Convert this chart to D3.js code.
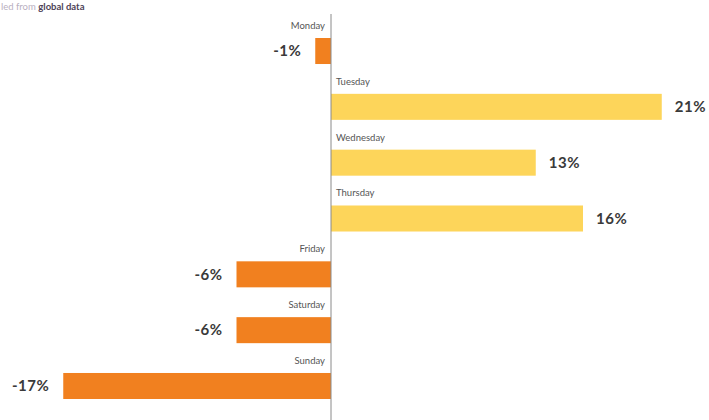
<!DOCTYPE html>
<html>
<head>
<meta charset="utf-8">
<script src="https://cdn.jsdelivr.net/npm/d3@7"></script>
<style>
  body { margin: 0; background: #fff; }
  svg { display: block; }
</style>
</head>
<body>
<svg id="chart"></svg>
<script>
var days = ["Monday", "Tuesday", "Wednesday", "Thursday", "Friday", "Saturday", "Sunday"];
var values = [-1, 21, 13, 16, -6, -6, -17];
var valueLabels = ["-1%", "21%", "13%", "16%", "-6%", "-6%", "-17%"];

var totalWidth = 709;
var totalHeight = 420;

var svg = d3.select("#chart")
    .attr("width", totalWidth)
    .attr("height", totalHeight);

var x = d3.scaleLinear().domain([-21, 24]).range([0.25, 709]);
var y = d3.scaleBand().domain(days).range([38, 399]).paddingInner(0.534).paddingOuter(0);

// source line (the visible part of it, the rest is off the page in the original)
var src = svg.append("text")
    .attr("x", 1)
    .attr("y", 10)
    .attr("font-family", "Lato, sans-serif")
    .attr("font-size", 9.5);
src.append("tspan").attr("fill", "#b9b0bf").text("led from ");
src.append("tspan").attr("fill", "#4d4257").attr("font-weight", "bold").text("global data");

var g = svg.append("g");

g.selectAll(".bar")
    .data(days)
    .enter()
    .append("rect")
    .attr("class", "bar")
    .attr("x", function (d, i) { return Math.min(x(0), x(values[i])) })
    .attr("y", function (d) { return y(d) })
    .attr("width", function (d, i) { return Math.abs(x(values[i]) - x(0)) })
    .attr("height", y.bandwidth())
    .attr("fill", function (d, i) { return values[i] < 0 ? "#f1801f" : "#fdd55a" });

// zero line
svg.append("line")
    .attr("x1", x(0)).attr("x2", x(0))
    .attr("y1", 14).attr("y2", totalHeight)
    .attr("stroke", "#8a8a8a")
    .attr("stroke-width", 1);

// day names
g.selectAll(".day")
    .data(days)
    .enter()
    .append("text")
    .attr("class", "day")
    .attr("x", function (d, i) { return values[i] < 0 ? x(0) - 6 : x(0) + 5 })
    .attr("y", function (d) { return y(d) - 9 })
    .attr("text-anchor", function (d, i) { return values[i] < 0 ? "end" : "start" })
    .attr("font-family", "Lato, sans-serif")
    .attr("font-size", 9.5)
    .attr("fill", "#555")
    .text(function (d) { return d });

// value labels
g.selectAll(".val")
    .data(days)
    .enter()
    .append("text")
    .attr("class", "val")
    .attr("x", function (d, i) { return values[i] < 0 ? x(values[i]) - 14 : x(values[i]) + 13 })
    .attr("y", function (d) { return y(d) + y.bandwidth() / 2 })
    .attr("dy", "0.35em")
    .attr("text-anchor", function (d, i) { return values[i] < 0 ? "end" : "start" })
    .attr("font-family", "Lato, sans-serif")
    .attr("font-weight", "bold")
    .attr("font-size", 15)
    .attr("letter-spacing", 0.5)
    .attr("fill", "#3a3a3a")
    .text(function (d, i) { return valueLabels[i] });
</script>
</body>
</html>
